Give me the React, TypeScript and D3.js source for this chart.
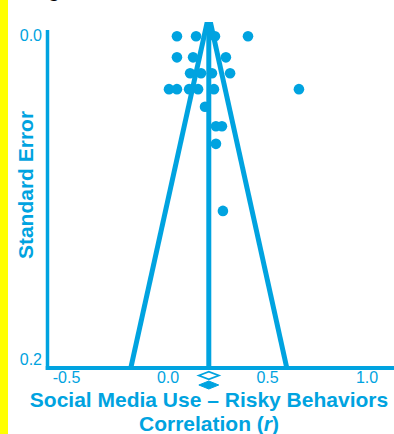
import React, { useEffect } from "react";
import * as d3 from "d3";

const BLUE = "#00A3E0";

// Study effect sizes (correlation r) and standard errors
const studyR = [
  0.045, 0.141, 0.236, 0.402,
  0.045, 0.126, 0.291,
  0.111, 0.166, 0.221, 0.312,
  0.005, 0.045, 0.106, 0.151, 0.231, 0.658,
  0.186,
  0.241, 0.271,
  0.241,
  0.276,
];
const studySE = [
  0.012, 0.012, 0.012, 0.012,
  0.024, 0.024, 0.024,
  0.033, 0.033, 0.033, 0.033,
  0.042, 0.042, 0.042, 0.042, 0.042, 0.042,
  0.052,
  0.063, 0.063,
  0.073,
  0.111,
];

const pooledR = 0.205;
const pooledCI = [0.155, 0.255];
const adjustedCI = [0.155, 0.255];

const xTicks = [-0.5, 0.0, 0.5, 1.0];
const yTicks = [0.0, 0.2];

const W = 394;
const H = 434;

export default function App() {
  useEffect(() => {
    document.body.style.margin = "0";
  }, []);

  const x = d3.scaleLinear().domain([0, 1]).range([168, 367]);
  const y = d3.scaleLinear().domain([0, 0.2]).range([15, 368]);

  const seMax = 0.2;
  const funnelLeft = d3.line<[number, number]>()
    .x((d) => x(d[0]))
    .y((d) => y(d[1]));
  const leftPts: [number, number][] = [
    [pooledR, 0],
    [pooledR - 1.96 * seMax, seMax],
  ];
  const rightPts: [number, number][] = [
    [pooledR, 0],
    [pooledR + 1.96 * seMax, seMax],
  ];

  const axisX = 47.5;
  const axisY = y(0.2);

  const diamond = (lo: number, hi: number, cy: number, h: number) => {
    const mid = (lo + hi) / 2;
    return `M${x(lo)},${cy} L${x(mid)},${cy - h / 2} L${x(hi)},${cy} L${x(mid)},${cy + h / 2} Z`;
  };

  const fmt = d3.format(".1f");

  return (
    <svg
      width={W}
      height={H}
      style={{ display: "block", position: "absolute", left: 0, top: 0, background: "#fff" }}
      fontFamily="'Liberation Sans', Arial, sans-serif"
    >
      <defs>
        <clipPath id="plotClip">
          <rect x={0} y={22} width={W} height={H - 22} />
        </clipPath>
      </defs>
      <rect x={0} y={0} width={W} height={H} fill="#fff" />
      <rect x={0} y={0} width={8} height={H} fill="#FFFF00" />
      <text x={48} y={-3} fontSize={20} fontWeight="bold" fill="#000">g</text>

      {/* funnel */}
      <g clipPath="url(#plotClip)">
        <path d={funnelLeft(leftPts) || ""} stroke={BLUE} strokeWidth={5} fill="none" />
        <path d={funnelLeft(rightPts) || ""} stroke={BLUE} strokeWidth={5} fill="none" />
        <line x1={x(pooledR)} x2={x(pooledR)} y1={y(0)} y2={axisY} stroke={BLUE} strokeWidth={5} />
      </g>

      {/* points */}
      {studyR.map((r, i) => (
        <circle key={i} cx={x(r)} cy={y(studySE[i])} r={5.3} fill={BLUE} />
      ))}

      {/* axes */}
      <line x1={axisX} x2={axisX} y1={30} y2={axisY + 2} stroke={BLUE} strokeWidth={3.5} />
      <line x1={axisX - 1.75} x2={W} y1={axisY} y2={axisY} stroke={BLUE} strokeWidth={4} />

      {/* y tick labels */}
      {yTicks.map((t, i) => (
        <text
          key={t}
          x={42}
          y={i === 0 ? y(t) + 26 : y(t) - 3}
          textAnchor="end"
          fontSize={16}
          fill={BLUE}
        >
          {fmt(t)}
        </text>
      ))}

      {/* x tick labels */}
      {xTicks.map((t) => (
        <text key={t} x={x(t) - (t < 0 ? 2 : 0)} y={383} textAnchor="middle" fontSize={16} fill={BLUE}>
          {t < 0 ? "-" + fmt(-t) : fmt(t)}
        </text>
      ))}

      {/* summary diamonds */}
      <path d={diamond(adjustedCI[0], adjustedCI[1], 375.5, 7.5)} fill="#fff" stroke={BLUE} strokeWidth={1.8} />
      <path d={diamond(pooledCI[0], pooledCI[1], 385, 8)} fill={BLUE} stroke={BLUE} strokeWidth={1} />

      {/* axis titles */}
      <text x={209} y={407} textAnchor="middle" fontSize={21} fontWeight="bold" fill={BLUE}>
        Social Media Use – Risky Behaviors
      </text>
      <text x={209} y={431} textAnchor="middle" fontSize={21} fontWeight="bold" fill={BLUE}>
        Correlation (<tspan fontStyle="italic">r</tspan>)
      </text>
      <text
        transform="translate(33,185) rotate(-90)"
        textAnchor="middle"
        fontSize={21}
        fontWeight="bold"
        fill={BLUE}
      >
        Standard Error
      </text>
    </svg>
  );
}
